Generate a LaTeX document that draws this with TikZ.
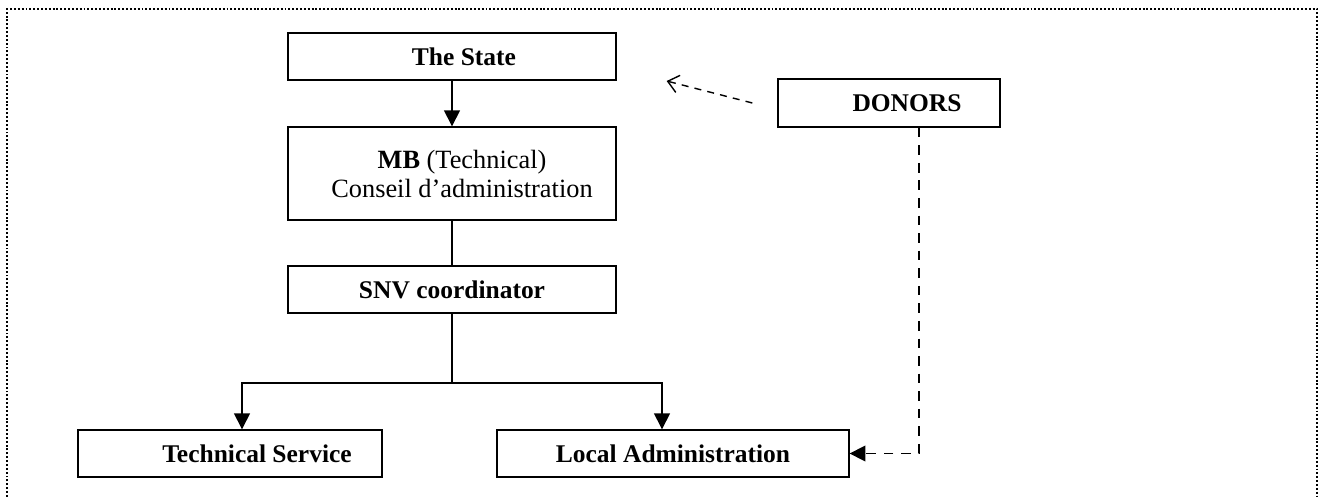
\documentclass[tikz,border=0pt]{standalone}
\usepackage{fontspec}
\setmainfont{Liberation Serif}
\usetikzlibrary{arrows.meta}

\tikzset{
  box/.style={draw, line width=0.8pt, inner sep=0pt, align=center,
    font=\fontsize{14.5}{16}\selectfont},
  solidarrow/.style={line width=0.8pt, -{Triangle[length=9pt,width=9pt]}},
  link/.style={line width=0.9pt, dash pattern=on 5.5pt off 4.5pt},
}

\begin{document}
\begin{tikzpicture}[x=0.02cm, y=-0.02cm]
% page and dotted frame
\useasboundingbox (0,0) rectangle (1323,497);
\draw[line width=1.1pt, dash pattern=on 1.1pt off 1.1pt] (7,520) -- (7,9) -- (1317,9) -- (1317,520);

\def\xm{452};
\def\xl{242};
\def\xr{662};
\def\ysplit{383};

\node[box, minimum width=6.56cm, minimum height=0.94cm] (state) at (\xm,56.5) {\hspace*{0.48cm}\textbf{The State}};
\node[box, minimum width=6.56cm, minimum height=1.86cm, font=\fontsize{15}{16.5}\selectfont] (mb) at (\xm,173.5)
  {\hspace*{0.4cm}\textbf{MB} (Technical)\\\hspace*{0.4cm}Conseil d'administration};
\node[box, minimum width=6.56cm, minimum height=0.94cm] (snv) at (\xm,289.5) {\textbf{SNV coordinator}};

\node[box, minimum width=6.08cm, minimum height=0.94cm] (tech) at (230,453.5) {\hspace*{1.08cm}\textbf{Technical Service}};
\node[box, minimum width=7.04cm, minimum height=0.94cm] (local) at (673,453.5) {\textbf{Local Administration}};

\node[box, minimum width=4.44cm, minimum height=0.96cm] (donors) at (889,103) {\hspace*{0.72cm}\textbf{DONORS}};

\coordinate (split) at (\xm,\ysplit);
\coordinate (bl) at (\xl,\ysplit);
\coordinate (br) at (\xr,\ysplit);

\draw[solidarrow] (state) -- (mb);
\draw[line width=0.8pt] (mb) -- (snv);
\draw[line width=0.8pt] (snv) -- (split);
\draw[solidarrow] (split) -| (tech.north -| bl);
\draw[solidarrow] (split) -| (local.north -| br);

\draw[link, -{Triangle[length=9pt,width=9pt]}] ([xshift=0.6cm]donors.south) |- (local.east);
\draw[line width=0.8pt, dash pattern=on 4pt off 3.5pt, -{Straight Barb[length=6pt,width=10pt]}]
  ([xshift=-0.5cm]donors.west) -- ([shift={(1cm,-0.49cm)}]state.east);

\end{tikzpicture}
\end{document}
